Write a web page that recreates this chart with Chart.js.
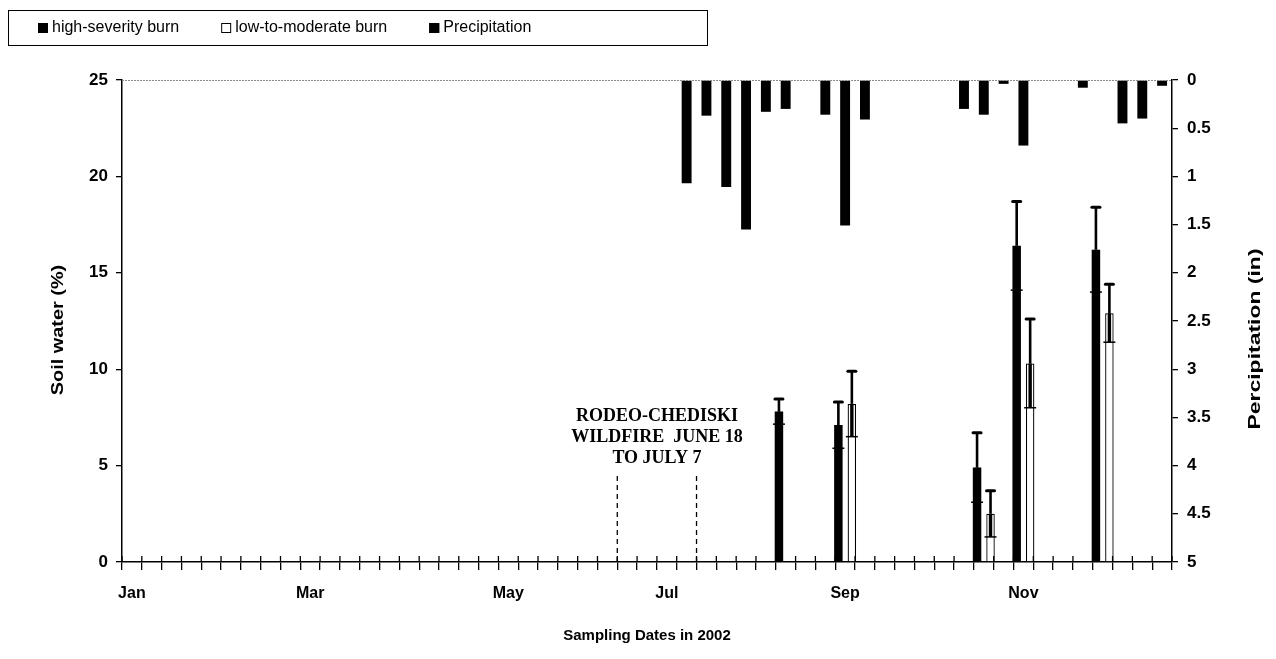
<!DOCTYPE html>
<html>
<head>
<meta charset="utf-8">
<script src="https://cdn.jsdelivr.net/npm/chart.js@4.4.1/dist/chart.umd.min.js"></script>
<style>
  html, body { margin: 0; padding: 0; background: #fff; }
  #wrap { position: relative; width: 1276px; height: 659px; }
</style>
</head>
<body>
<div id="wrap"><canvas id="c" width="1276" height="659"></canvas></div>
<script>
// Weekly categories across 2002
const weekCount = 53;
const monthTickWeeks = [0, 9, 19, 27, 36, 45];
const monthTickLabels = ['Jan', 'Mar', 'May', 'Jul', 'Sep', 'Nov'];

// Weekly precipitation totals (in)
const precipWeeks  = [28, 29, 30, 31, 32, 33, 35, 36, 37, 42, 43, 44, 45, 48, 50, 51, 52];
const precipInches = [1.07, 0.37, 1.11, 1.55, 0.33, 0.30, 0.36, 1.51, 0.41, 0.30, 0.36, 0.04, 0.68, 0.08, 0.45, 0.40, 0.06];

// Soil water (%) on sampling weeks, mean and error
const soilWeeks       = [33, 36, 43, 45, 49];
const highSeverity    = [7.8, 7.1, 4.9, 16.4, 16.2];
const highSeverityErr = [0.65, 1.2, 1.8, 2.3, 2.2];
const lowModerate     = [null, 8.2, 2.5, 10.3, 12.9];
const lowModerateErr  = [null, 1.7, 1.2, 2.3, 1.5];

// Wildfire window (week boundaries) and its note
const fireStartWeek = 25;
const fireEndWeek = 29;
const fireNote = ['RODEO-CHEDISKI', 'WILDFIRE  JUNE 18', 'TO JULY 7'];

const SANS = '"Liberation Sans", Arial, Helvetica, sans-serif';
const SERIF = '"Liberation Serif", "Times New Roman", serif';

const weekLabels = Array.from({ length: weekCount }, (_, i) => {
  const j = monthTickWeeks.indexOf(i);
  return j >= 0 ? monthTickLabels[j] : '';
});

function byWeek(weeks, values) {
  const out = new Array(weekCount).fill(null);
  weeks.forEach((w, i) => { out[w] = values[i]; });
  return out;
}

// Error whiskers with caps on the soil water bars
const errorBars = {
  id: 'errorBars',
  afterDatasetsDraw(chart) {
    const ctx = chart.ctx;
    const ys = chart.scales.y;
    chart.data.datasets.forEach((ds, di) => {
      if (!ds.errors) return;
      const meta = chart.getDatasetMeta(di);
      meta.data.forEach((el, i) => {
        const v = ds.data[i], e = ds.errors[i];
        if (v == null || e == null) return;
        const x = el.x;
        const yTop = ys.getPixelForValue(v + e);
        const yMid = ys.getPixelForValue(v);
        const yLow = ys.getPixelForValue(v - e);
        ctx.save();
        ctx.strokeStyle = '#000';
        ctx.lineWidth = 2.6;
        ctx.beginPath(); ctx.moveTo(x, yMid); ctx.lineTo(x, yTop); ctx.stroke();
        ctx.lineWidth = 3.4;
        ctx.beginPath(); ctx.moveTo(x, yLow); ctx.lineTo(x, yMid); ctx.stroke();
        ctx.lineWidth = 3; ctx.lineCap = 'round';
        ctx.beginPath(); ctx.moveTo(x - 4, yTop); ctx.lineTo(x + 4, yTop); ctx.stroke();
        ctx.lineWidth = 1.5; ctx.lineCap = 'butt';
        ctx.beginPath(); ctx.moveTo(x - 6, yLow); ctx.lineTo(x + 6, yLow); ctx.stroke();
        ctx.restore();
      });
    });
  }
};

// Rotated axis title, stretched along its reading direction
function verticalTitle(ctx, text, x, y, stretch) {
  ctx.save();
  ctx.fillStyle = '#000';
  ctx.font = 'bold 17px ' + SANS;
  ctx.textAlign = 'center';
  ctx.textBaseline = 'middle';
  ctx.translate(x, y);
  ctx.rotate(-Math.PI / 2);
  ctx.scale(stretch, 1);
  ctx.fillText(text, 0, 0);
  ctx.restore();
}

// Axis decorations: dotted top rule, crossing week ticks, both y titles
const axisExtras = {
  id: 'axisExtras',
  afterDraw(chart) {
    const ctx = chart.ctx;
    const { left, right, top, bottom } = chart.chartArea;
    const xs = chart.scales.x;
    const midY = (top + bottom) / 2;
    ctx.save();
    ctx.strokeStyle = '#8a8a8a';
    ctx.lineWidth = 1;
    ctx.setLineDash([2, 1]);
    ctx.beginPath(); ctx.moveTo(left, top + 0.5); ctx.lineTo(right, top + 0.5); ctx.stroke();
    ctx.setLineDash([]);
    ctx.strokeStyle = '#000';
    ctx.lineWidth = 1.3;
    for (let i = 0; i <= weekCount; i++) {
      const x = xs.getPixelForValue(i - 0.5);
      ctx.beginPath(); ctx.moveTo(x, bottom); ctx.lineTo(x, bottom - 6); ctx.stroke();
    }
    ctx.restore();
    verticalTitle(ctx, 'Soil water (%)', 58, midY + 9, 1.17);
    verticalTitle(ctx, 'Percipitation (in)', 1255, midY + 18, 1.35);
  }
};

// Wildfire window markers and note
const fireWindow = {
  id: 'fireWindow',
  afterDraw(chart) {
    const ctx = chart.ctx;
    const xs = chart.scales.x, ys = chart.scales.y;
    const x1 = xs.getPixelForValue(fireStartWeek - 0.5);
    const x2 = xs.getPixelForValue(fireEndWeek - 0.5);
    ctx.save();
    ctx.strokeStyle = '#000';
    ctx.lineWidth = 1.3;
    ctx.setLineDash([5, 4]);
    [x1, x2].forEach(x => {
      ctx.beginPath(); ctx.moveTo(x, ys.getPixelForValue(0)); ctx.lineTo(x, ys.getPixelForValue(4.6)); ctx.stroke();
    });
    ctx.setLineDash([]);
    ctx.fillStyle = '#000';
    ctx.font = 'bold 18px ' + SERIF;
    ctx.textAlign = 'center';
    ctx.textBaseline = 'middle';
    const y0 = ys.getPixelForValue(7.55);
    fireNote.forEach((t, i) => ctx.fillText(t, (x1 + x2) / 2, y0 + i * 21));
    ctx.restore();
  }
};

// Boxed legend across the top
const boxedLegend = {
  id: 'boxedLegend',
  afterDraw(chart) {
    const ctx = chart.ctx;
    ctx.save();
    ctx.strokeStyle = '#000';
    ctx.lineWidth = 1;
    ctx.strokeRect(8.5, 10.5, 699, 35);
    ctx.font = '16px ' + SANS;
    ctx.textBaseline = 'middle';
    ctx.textAlign = 'left';
    const yMid = 28;
    let x = 38;
    chart.data.datasets.forEach(ds => {
      ctx.fillStyle = ds.backgroundColor;
      ctx.fillRect(x, yMid - 5, 10, 10);
      ctx.strokeStyle = '#000';
      ctx.strokeRect(x + 0.5, yMid - 4.5, 9, 9);
      ctx.fillStyle = '#000';
      ctx.fillText(ds.label, x + 14, yMid);
      x += 14 + ctx.measureText(ds.label).width + 42;
    });
    ctx.restore();
  }
};

new Chart(document.getElementById('c'), {
  type: 'bar',
  data: {
    labels: weekLabels,
    datasets: [
      {
        label: 'high-severity burn',
        data: byWeek(soilWeeks, highSeverity),
        errors: byWeek(soilWeeks, highSeverityErr),
        backgroundColor: '#000',
        borderWidth: 0,
        yAxisID: 'y',
        categoryPercentage: 1.36,
        barPercentage: 0.63
      },
      {
        label: 'low-to-moderate burn',
        data: byWeek(soilWeeks, lowModerate),
        errors: byWeek(soilWeeks, lowModerateErr),
        backgroundColor: '#fff',
        borderColor: '#000',
        borderWidth: 1.3,
        yAxisID: 'y',
        categoryPercentage: 1.36,
        barPercentage: 0.63
      },
      {
        label: 'Precipitation',
        data: byWeek(precipWeeks, precipInches),
        backgroundColor: '#000',
        borderWidth: 0,
        yAxisID: 'y2',
        grouped: false,
        categoryPercentage: 1,
        barPercentage: 0.5
      }
    ]
  },
  options: {
    responsive: false,
    animation: false,
    devicePixelRatio: 1,
    layout: { padding: { top: 80, left: 0, right: 0, bottom: 0 } },
    plugins: { legend: { display: false }, tooltip: { enabled: false } },
    scales: {
      x: {
        type: 'category',
        offset: true,
        grid: { offset: true, drawOnChartArea: false, drawTicks: true, tickLength: 8, color: '#000', lineWidth: 1.3 },
        border: { display: true, color: '#000', width: 1.5 },
        ticks: { autoSkip: false, maxRotation: 0, minRotation: 0, color: '#000', padding: 14, font: { family: SANS, size: 16, weight: 'bold' } },
        title: { display: true, text: 'Sampling Dates in 2002', color: '#000', font: { family: SANS, size: 15, weight: 'bold' }, padding: { top: 0, bottom: 14 } },
        afterFit(s) { s.height = 97; }
      },
      y: {
        position: 'left',
        min: 0, max: 25,
        ticks: { stepSize: 5, color: '#000', padding: 8, font: { family: SANS, size: 17, weight: 'bold' } },
        grid: { drawOnChartArea: false, tickLength: 6, color: '#000', lineWidth: 1.3 },
        border: { display: true, color: '#000', width: 1.5 },
        afterFit(s) { s.width = 122; }
      },
      y2: {
        position: 'right',
        reverse: true,
        min: 0, max: 5,
        ticks: { stepSize: 0.5, color: '#000', padding: 9, font: { family: SANS, size: 17, weight: 'bold' }, callback: v => String(+Number(v).toFixed(1)) },
        grid: { drawOnChartArea: false, tickLength: 6, color: '#000', lineWidth: 1.3 },
        border: { display: true, color: '#000', width: 1.5 },
        afterFit(s) { s.width = 104; }
      }
    }
  },
  plugins: [errorBars, axisExtras, fireWindow, boxedLegend]
});
</script>
</body>
</html>
